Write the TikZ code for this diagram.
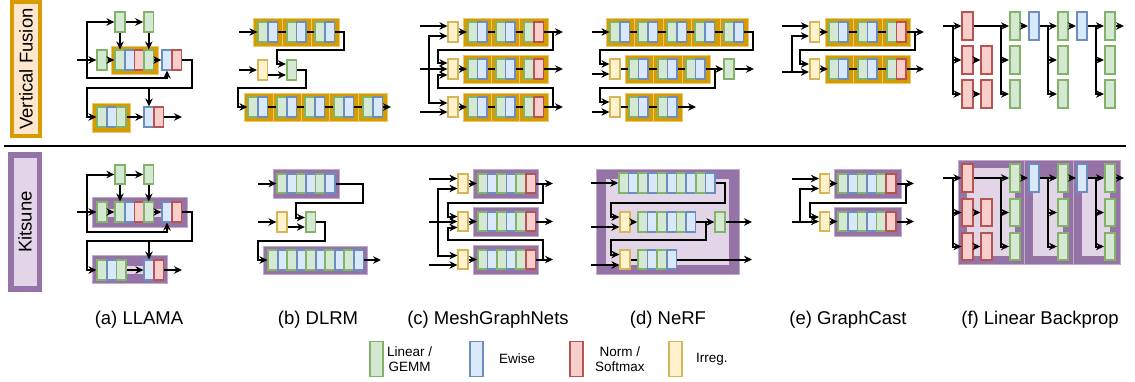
\documentclass[tikz,border=0pt]{standalone}
\usepackage{fontspec}
\setmainfont{Liberation Sans}
\usetikzlibrary{arrows.meta,calc}

\definecolor{grfill}{HTML}{D5E8D4}
\definecolor{grline}{HTML}{82B366}
\definecolor{blfill}{HTML}{DAE8FC}
\definecolor{blline}{HTML}{6C8EBF}
\definecolor{rdfill}{HTML}{F8CECC}
\definecolor{rdline}{HTML}{B85450}
\definecolor{ylfill}{HTML}{FFF2CC}
\definecolor{ylline}{HTML}{D6B656}
\definecolor{vfcol}{HTML}{D79B00}
\definecolor{vflight}{HTML}{FFE6CC}
\definecolor{ktcol}{HTML}{9673A6}
\definecolor{ktlight}{HTML}{E1D5E7}

\tikzset{
  op/.style={minimum width=9.6pt, minimum height=19.5pt, inner sep=0pt, line width=1.6pt},
  lin/.style={op, fill=grfill, draw=grline},
  ew/.style={op, fill=blfill, draw=blline},
  nrm/.style={op, fill=rdfill, draw=rdline},
  irr/.style={op, fill=ylfill, draw=ylline},
  tall/.style={minimum width=10.5pt, minimum height=27.5pt},
  key/.style={minimum width=12.5pt, minimum height=35pt},
  vfbox/.style={fill=vfcol, draw=vfcol!55!white, line width=0.6pt},
  ktbox/.style={fill=ktcol, draw=ktcol!60!white, line width=0.6pt},
  ktin/.style={fill=ktlight},
  wire/.style={line width=2pt},
  arr/.style={wire, -{Stealth[length=8pt,width=7.5pt]}},
  rowlbl/.style={rotate=90, inner sep=0pt, font=\fontsize{18.5}{20}\selectfont},
  subcap/.style={inner sep=0pt, font=\fontsize{18.5}{20}\selectfont},
  lgd/.style={inner sep=0pt, align=center, font=\fontsize{13.5}{15.5}\selectfont},
}

\begin{document}
\begin{tikzpicture}[x=1pt,y=-1pt]
\useasboundingbox (0,0) rectangle (1135,381);

\fill[vfcol] (10,0) rectangle (42,138);
\fill[vflight] (14,4) rectangle (38,134);
\node[rowlbl] (lbl-vf) at (26,69) {Vertical Fusion};
\fill[ktcol] (8,152) rectangle (42,292);
\fill[ktlight] (13.5,158) rectangle (36.5,285.5);
\node[rowlbl] (lbl-kt) at (25,222) {Kitsune};
\coordinate (sep-l) at (4,146);
\coordinate (sep-r) at (1126,146);
\draw[line width=1.3pt] (sep-l) -- (sep-r);

% (a) LLAMA
\fill[vfbox] (111,46) rectangle (158,74);
\fill[vfbox] (92,103) rectangle (130,132);
\node[lin] (va-g1) at (120,22) {};
\node[lin] (va-g2) at (148.8,22) {};
\node[lin] (va-g0) at (102,60) {};
\node[lin] (va-f1) at (120,60) {};
\node[ew]  (va-f2) at (129.6,60) {};
\node[nrm] (va-f3) at (139.2,60) {};
\node[lin] (va-f4) at (148.8,60) {};
\node[ew]  (va-e1) at (167,60) {};
\node[nrm] (va-n1) at (176.6,60) {};
\node[lin] (va-h1) at (102,117) {};
\node[ew]  (va-h2) at (111.6,117) {};
\node[lin] (va-h3) at (121.2,117) {};
\node[ew]  (va-e2) at (149,117) {};
\node[nrm] (va-n2) at (158.6,117) {};
\coordinate (va-in) at (77,60);
\coordinate (va-j) at (87,60);
\coordinate (va-out) at (182,117);
\draw[arr] (va-in) -- (va-g0);
\draw[arr] (va-j) |- (va-g1);
\draw[arr] (va-j) -- (87,78) -| (va-e1);
\draw[arr] (va-g1) -- (va-g2);
\draw[arr] (va-g1) -- (va-f1);
\draw[arr] (va-g2) -- (va-f4);
\draw[arr] (va-g0) -- (va-f1);
\draw[arr] (va-f4) -- (va-e1);
\draw[arr] (va-n1) -- (192,60) -- (192,88) -- (87,88) |- (va-h1);
\draw[arr] (va-e2 |- 0,88) -- (va-e2);
\draw[arr] (va-h3) -- (va-e2);
\draw[arr] (va-n2) -- (va-out);

\fill[ktbox] (92,197) rectangle (187,227);
\fill[ktin] (102,208.5) rectangle (172,217);
\fill[ktbox] (92,255) rectangle (167,283);
\fill[ktin] (112,265.5) rectangle (154,274);
\node[lin] (ka-g1) at (120,174.5) {};
\node[lin] (ka-g2) at (148.8,174.5) {};
\node[lin] (ka-g0) at (102,212) {};
\node[lin] (ka-f1) at (120,212) {};
\node[ew]  (ka-f2) at (129.6,212) {};
\node[nrm] (ka-f3) at (139.2,212) {};
\node[lin] (ka-f4) at (148.8,212) {};
\node[ew]  (ka-e1) at (167,212) {};
\node[nrm] (ka-n1) at (176.6,212) {};
\node[lin] (ka-h1) at (102,270) {};
\node[ew]  (ka-h2) at (111.6,270) {};
\node[lin] (ka-h3) at (121.2,270) {};
\node[ew]  (ka-e2) at (149,270) {};
\node[nrm] (ka-n2) at (158.6,270) {};
\coordinate (ka-in) at (77,212);
\coordinate (ka-j) at (87,212);
\coordinate (ka-out) at (182,270);
\draw[arr] (ka-in) -- (ka-g0);
\draw[arr] (ka-j) |- (ka-g1);
\draw[arr] (ka-j) -- (87,232) -| (ka-e1);
\draw[arr] (ka-g1) -- (ka-g2);
\draw[arr] (ka-g1) -- (ka-f1);
\draw[arr] (ka-g2) -- (ka-f4);
\draw[arr] (ka-g0) -- (ka-f1);
\draw[arr] (ka-f4) -- (ka-e1);
\draw[arr] (ka-n1) -- (192,212) -- (192,241) -- (87,241) |- (ka-h1);
\draw[arr] (ka-e2 |- 0,241) -- (ka-e2);
\draw[arr] (ka-h3) -- (ka-e2);
\draw[arr] (ka-n2) -- (ka-out);

% (b) DLRM
\fill[vfbox] (253,18) rectangle (282,46);
\fill[vfbox] (282,18) rectangle (311,46);
\fill[vfbox] (311,18) rectangle (339,46);
\fill[vfbox] (244,93) rectangle (273,121);
\fill[vfbox] (273,93) rectangle (301,121);
\fill[vfbox] (301,93) rectangle (329,121);
\fill[vfbox] (329,93) rectangle (358,121);
\fill[vfbox] (358,93) rectangle (387,121);
\node[lin] (vb-a1) at (263,32) {};
\node[ew]  (vb-a2) at (272.6,32) {};
\node[lin] (vb-a3) at (291.5,32) {};
\node[ew]  (vb-a4) at (301.1,32) {};
\node[lin] (vb-a5) at (320,32) {};
\node[ew]  (vb-a6) at (329.6,32) {};
\node[irr] (vb-y) at (262.5,70) {};
\node[lin] (vb-g) at (291.5,70) {};
\node[lin] (vb-c1) at (253,107) {};
\node[ew]  (vb-c2) at (262.6,107) {};
\node[lin] (vb-c3) at (282,107) {};
\node[ew]  (vb-c4) at (291.6,107) {};
\node[lin] (vb-c5) at (310,107) {};
\node[ew]  (vb-c6) at (319.6,107) {};
\node[lin] (vb-c7) at (339,107) {};
\node[ew]  (vb-c8) at (348.6,107) {};
\node[lin] (vb-c9) at (368,107) {};
\node[ew]  (vb-c10) at (377.6,107) {};
\coordinate (vb-in1) at (239,32);
\coordinate (vb-in2) at (239,70);
\coordinate (vb-out) at (391,107);
\draw[arr] (vb-in1) -- (vb-a1);
\draw[wire] (vb-a2) -- (vb-a3);
\draw[wire] (vb-a4) -- (vb-a5);
\draw[arr] (vb-a6) -- (344,32) -- (344,50) -- (277,50) |- ($(vb-g.west)+(0,-6)$);
\draw[arr] (vb-in2) -- (vb-y);
\draw[arr] ($(vb-y.east)+(0,5)$) -- ($(vb-g.west)+(0,5)$);
\draw[arr] (vb-g) -- (306,70) -- (306,88) -- (238,88) |- (vb-c1);
\draw[wire] (vb-c2) -- (vb-c3);
\draw[wire] (vb-c4) -- (vb-c5);
\draw[wire] (vb-c6) -- (vb-c7);
\draw[wire] (vb-c8) -- (vb-c9);
\draw[arr] (vb-c10) -- (vb-out);

\fill[ktbox] (273,169) rectangle (339,198);
\fill[ktbox] (263,246) rectangle (367,274);
\node[lin] (kb-a1) at (282,183.5) {};
\node[ew]  (kb-a2) at (291.6,183.5) {};
\node[lin] (kb-a3) at (301.2,183.5) {};
\node[ew]  (kb-a4) at (310.8,183.5) {};
\node[lin] (kb-a5) at (320.4,183.5) {};
\node[ew]  (kb-a6) at (330,183.5) {};
\node[irr] (kb-y) at (282,222) {};
\node[lin] (kb-g) at (310.5,222) {};
\node[lin] (kb-c1) at (273,260) {};
\node[ew]  (kb-c2) at (282.5,260) {};
\node[lin] (kb-c3) at (292,260) {};
\node[ew]  (kb-c4) at (301.5,260) {};
\node[lin] (kb-c5) at (311,260) {};
\node[ew]  (kb-c6) at (320.5,260) {};
\node[lin] (kb-c7) at (330,260) {};
\node[ew]  (kb-c8) at (339.5,260) {};
\node[lin] (kb-c9) at (349,260) {};
\node[ew]  (kb-c10) at (358.5,260) {};
\coordinate (kb-in1) at (258,183.5);
\coordinate (kb-in2) at (258,222);
\coordinate (kb-out) at (381,260);
\draw[arr] (kb-in1) -- (kb-a1);
\draw[arr] (kb-a6) -- (363,183.5) -- (363,203) -- (296,203) |- ($(kb-g.west)+(0,-4.5)$);
\draw[arr] (kb-in2) -- (kb-y);
\draw[arr] ($(kb-y.east)+(0,5)$) -- ($(kb-g.west)+(0,5)$);
\draw[arr] (kb-g) -- (325,222) -- (325,241) -- (258,241) |- (kb-c1);
\draw[arr] (kb-c10) -- (kb-out);

% (c) MeshGraphNets
\fill[vfbox] (463,18) rectangle (491,46);
\fill[vfbox] (491,18) rectangle (519,46);
\fill[vfbox] (519,18) rectangle (548,46);
\fill[vfbox] (463,55) rectangle (491,83);
\fill[vfbox] (491,55) rectangle (519,83);
\fill[vfbox] (519,55) rectangle (548,83);
\fill[vfbox] (463,93) rectangle (491,121);
\fill[vfbox] (491,93) rectangle (519,121);
\fill[vfbox] (519,93) rectangle (548,121);
\node[irr] (vc-ya) at (453,32) {};
\node[lin] (vc-a1) at (472.5,32) {};
\node[ew]  (vc-a2) at (482.1,32) {};
\node[lin] (vc-a3) at (500.5,32) {};
\node[ew]  (vc-a4) at (510.1,32) {};
\node[lin] (vc-a5) at (529,32) {};
\node[nrm] (vc-a6) at (538.6,32) {};
\node[irr] (vc-yb) at (453,69) {};
\node[lin] (vc-b1) at (472.5,69) {};
\node[ew]  (vc-b2) at (482.1,69) {};
\node[lin] (vc-b3) at (500.5,69) {};
\node[ew]  (vc-b4) at (510.1,69) {};
\node[lin] (vc-b5) at (529,69) {};
\node[nrm] (vc-b6) at (538.6,69) {};
\node[irr] (vc-yc) at (453,107) {};
\node[lin] (vc-c1) at (472.5,107) {};
\node[ew]  (vc-c2) at (482.1,107) {};
\node[lin] (vc-c3) at (500.5,107) {};
\node[ew]  (vc-c4) at (510.1,107) {};
\node[lin] (vc-c5) at (529,107) {};
\node[nrm] (vc-c6) at (538.6,107) {};
\coordinate (vc-in1) at (420,26);
\coordinate (vc-in2) at (420,69);
\coordinate (vc-in3) at (420,112);
\coordinate (vc-j) at (429,69);
\coordinate (vc-k1) at (553,32);
\coordinate (vc-k3) at (553,107);
\coordinate (vc-out1) at (563,32);
\coordinate (vc-out2) at (563,69);
\coordinate (vc-out3) at (563,107);
\draw[arr] (vc-in1) -- ($(vc-ya.west)+(0,-6)$);
\draw[arr] (vc-in2) -- (vc-yb);
\draw[arr] (vc-in3) -- ($(vc-yc.west)+(0,5)$);
\draw[arr] (vc-j) |- ($(vc-ya.west)+(0,4)$);
\draw[arr] (vc-j) |- ($(vc-yc.west)+(0,-4)$);
\draw[arr] (vc-ya) -- (vc-a1);
\draw[arr] (vc-yb) -- (vc-b1);
\draw[arr] (vc-yc) -- (vc-c1);
\draw[wire] (vc-a2) -- (vc-a3);
\draw[wire] (vc-a4) -- (vc-a5);
\draw[wire] (vc-b2) -- (vc-b3);
\draw[wire] (vc-b4) -- (vc-b5);
\draw[wire] (vc-c2) -- (vc-c3);
\draw[wire] (vc-c4) -- (vc-c5);
\draw[arr] (vc-a6) -- (vc-out1);
\draw[arr] (vc-b6) -- (vc-out2);
\draw[arr] (vc-c6) -- (vc-out3);
\draw[arr] (vc-k1) -- (553,50) -- (438,50) |- ($(vc-yb.west)+(0,-6)$);
\draw[arr] (vc-k3) -- (553,88) -- (438,88) |- ($(vc-yb.west)+(0,6)$);

\fill[ktbox] (473,169) rectangle (538,198);
\fill[ktbox] (473,207) rectangle (538,236);
\fill[ktbox] (473,245) rectangle (538,274);
\node[irr] (kc-ya) at (463,183.5) {};
\node[lin] (kc-a1) at (482.5,183.5) {};
\node[ew]  (kc-a2) at (492.1,183.5) {};
\node[lin] (kc-a3) at (501.7,183.5) {};
\node[ew]  (kc-a4) at (511.3,183.5) {};
\node[lin] (kc-a5) at (520.9,183.5) {};
\node[nrm] (kc-a6) at (530.5,183.5) {};
\node[irr] (kc-yb) at (463,221.5) {};
\node[lin] (kc-b1) at (482.5,221.5) {};
\node[ew]  (kc-b2) at (492.1,221.5) {};
\node[lin] (kc-b3) at (501.7,221.5) {};
\node[ew]  (kc-b4) at (511.3,221.5) {};
\node[lin] (kc-b5) at (520.9,221.5) {};
\node[nrm] (kc-b6) at (530.5,221.5) {};
\node[irr] (kc-yc) at (463,259.5) {};
\node[lin] (kc-c1) at (482.5,259.5) {};
\node[ew]  (kc-c2) at (492.1,259.5) {};
\node[lin] (kc-c3) at (501.7,259.5) {};
\node[ew]  (kc-c4) at (511.3,259.5) {};
\node[lin] (kc-c5) at (520.9,259.5) {};
\node[nrm] (kc-c6) at (530.5,259.5) {};
\coordinate (kc-in1) at (429,178.5);
\coordinate (kc-in2) at (429,221.5);
\coordinate (kc-in3) at (429,265);
\coordinate (kc-j) at (438,221.5);
\coordinate (kc-k1) at (543,183.5);
\coordinate (kc-k3) at (543,259.5);
\coordinate (kc-out1) at (553,183.5);
\coordinate (kc-out2) at (553,221.5);
\coordinate (kc-out3) at (553,259.5);
\draw[arr] (kc-in1) -- ($(kc-ya.west)+(0,-5)$);
\draw[arr] (kc-in2) -- (kc-yb);
\draw[arr] (kc-in3) -- ($(kc-yc.west)+(0,5.5)$);
\draw[arr] (kc-j) |- ($(kc-ya.west)+(0,5)$);
\draw[arr] (kc-j) |- ($(kc-yc.west)+(0,-4)$);
\draw[arr] (kc-ya) -- (kc-a1);
\draw[arr] (kc-yb) -- (kc-b1);
\draw[arr] (kc-yc) -- (kc-c1);
\draw[arr] (kc-a6) -- (kc-out1);
\draw[arr] (kc-b6) -- (kc-out2);
\draw[arr] (kc-c6) -- (kc-out3);
\draw[arr] (kc-k1) -- (543,203) -- (448,203) |- ($(kc-yb.west)+(0,-5)$);
\draw[arr] (kc-k3) -- (543,240) -- (448,240) |- ($(kc-yb.west)+(0,6)$);

% (d) NeRF
\fill[vfbox] (606,18) rectangle (634,46);
\fill[vfbox] (634,18) rectangle (663,46);
\fill[vfbox] (663,18) rectangle (691,46);
\fill[vfbox] (691,18) rectangle (720,46);
\fill[vfbox] (720,18) rectangle (748,46);
\fill[vfbox] (625,55) rectangle (653,83);
\fill[vfbox] (653,55) rectangle (682,83);
\fill[vfbox] (682,55) rectangle (710,83);
\fill[vfbox] (625,93) rectangle (653,121);
\fill[vfbox] (653,93) rectangle (682,121);
\node[lin] (vd-a1) at (615,32) {};
\node[ew]  (vd-a2) at (624.6,32) {};
\node[lin] (vd-a3) at (643,32) {};
\node[ew]  (vd-a4) at (652.6,32) {};
\node[lin] (vd-a5) at (672,32) {};
\node[ew]  (vd-a6) at (681.6,32) {};
\node[lin] (vd-a7) at (700,32) {};
\node[ew]  (vd-a8) at (709.6,32) {};
\node[lin] (vd-a9) at (729,32) {};
\node[ew]  (vd-a10) at (738.6,32) {};
\node[irr] (vd-yb) at (615,69) {};
\node[lin] (vd-b1) at (633.5,69) {};
\node[ew]  (vd-b2) at (643.1,69) {};
\node[lin] (vd-b3) at (662.5,69) {};
\node[ew]  (vd-b4) at (672.1,69) {};
\node[lin] (vd-b5) at (690.5,69) {};
\node[ew]  (vd-b6) at (700.1,69) {};
\node[lin] (vd-g) at (729,69) {};
\node[irr] (vd-yc) at (615,107) {};
\node[lin] (vd-c1) at (633.5,107) {};
\node[ew]  (vd-c2) at (643.1,107) {};
\node[lin] (vd-c3) at (662.5,107) {};
\node[ew]  (vd-c4) at (672.1,107) {};
\coordinate (vd-in1) at (592,32);
\coordinate (vd-in2) at (592,74);
\coordinate (vd-in3) at (592,112);
\coordinate (vd-k) at (715,69);
\coordinate (vd-out2) at (754,69);
\coordinate (vd-out3) at (696,107);
\draw[arr] (vd-in1) -- (vd-a1);
\draw[wire] (vd-a2) -- (vd-a3);
\draw[wire] (vd-a4) -- (vd-a5);
\draw[wire] (vd-a6) -- (vd-a7);
\draw[wire] (vd-a8) -- (vd-a9);
\draw[arr] (vd-a10) -- (753,32) -- (753,50) -- (600,50) |- ($(vd-yb.west)+(0,-5)$);
\draw[arr] (vd-in2) -- ($(vd-yb.west)+(0,5)$);
\draw[wire] (vd-yb) -- (vd-b1);
\draw[wire] (vd-b2) -- (vd-b3);
\draw[wire] (vd-b4) -- (vd-b5);
\draw[arr] (vd-b6) -- (vd-g);
\draw[arr] (vd-g) -- (vd-out2);
\draw[arr] (vd-k) -- (715,88) -- (600,88) |- ($(vd-yc.west)+(0,-5)$);
\draw[arr] (vd-in3) -- ($(vd-yc.west)+(0,5)$);
\draw[wire] (vd-yc) -- (vd-c1);
\draw[wire] (vd-c2) -- (vd-c3);
\draw[arr] (vd-c4) -- (vd-out3);

\fill[ktbox] (596,169) rectangle (739,274);
\fill[ktin] (606,179) rectangle (729,265);
\node[lin] (kd-a1) at (623.8,183) {};
\node[ew]  (kd-a2) at (633.4,183) {};
\node[lin] (kd-a3) at (643,183) {};
\node[ew]  (kd-a4) at (652.6,183) {};
\node[lin] (kd-a5) at (662.2,183) {};
\node[ew]  (kd-a6) at (671.8,183) {};
\node[lin] (kd-a7) at (681.4,183) {};
\node[ew]  (kd-a8) at (691,183) {};
\node[lin] (kd-a9) at (700.6,183) {};
\node[ew]  (kd-a10) at (710.2,183) {};
\node[irr] (kd-yb) at (625,222) {};
\node[lin] (kd-b1) at (642.8,222) {};
\node[ew]  (kd-b2) at (652.4,222) {};
\node[lin] (kd-b3) at (662,222) {};
\node[ew]  (kd-b4) at (671.6,222) {};
\node[lin] (kd-b5) at (681.2,222) {};
\node[ew]  (kd-b6) at (690.8,222) {};
\node[lin] (kd-g) at (720,222) {};
\node[irr] (kd-yc) at (625,259.5) {};
\node[lin] (kd-c1) at (642.8,259.5) {};
\node[ew]  (kd-c2) at (652.4,259.5) {};
\node[lin] (kd-c3) at (662,259.5) {};
\node[ew]  (kd-c4) at (671.6,259.5) {};
\coordinate (kd-in1) at (591,183);
\coordinate (kd-in2) at (591,227);
\coordinate (kd-in3) at (591,265);
\coordinate (kd-k) at (706,222);
\coordinate (kd-out2) at (752,222);
\coordinate (kd-out3) at (752,259.5);
\draw[arr] (kd-in1) -- (kd-a1);
\draw[arr] (kd-a10) -- (725,183) -- (725,203) -- (611,203) |- ($(kd-yb.west)+(0,-5)$);
\draw[arr] (kd-in2) -- ($(kd-yb.west)+(0,5)$);
\draw[arr] (kd-yb) -- (kd-b1);
\draw[arr] (kd-b6) -- (kd-g);
\draw[arr] (kd-g) -- (kd-out2);
\draw[arr] (kd-k) -- (706,240) -- (611,240) |- ($(kd-yc.west)+(0,-5)$);
\draw[arr] (kd-in3) -- ($(kd-yc.west)+(0,5.5)$);
\draw[wire] (kd-yc) -- (kd-c1);
\draw[arr] (kd-c4) -- (kd-out3);

% (e) GraphCast
\fill[vfbox] (825,18) rectangle (853,46);
\fill[vfbox] (853,18) rectangle (882,46);
\fill[vfbox] (882,18) rectangle (910,46);
\fill[vfbox] (825,55) rectangle (853,83);
\fill[vfbox] (853,55) rectangle (882,83);
\fill[vfbox] (882,55) rectangle (910,83);
\node[irr] (ve-ya) at (814.5,32) {};
\node[lin] (ve-a1) at (833.5,32) {};
\node[ew]  (ve-a2) at (843.1,32) {};
\node[lin] (ve-a3) at (862.5,32) {};
\node[ew]  (ve-a4) at (872.1,32) {};
\node[lin] (ve-a5) at (891.5,32) {};
\node[nrm] (ve-a6) at (901.1,32) {};
\node[irr] (ve-yb) at (814.5,69) {};
\node[lin] (ve-b1) at (833.5,69) {};
\node[ew]  (ve-b2) at (843.1,69) {};
\node[lin] (ve-b3) at (862.5,69) {};
\node[ew]  (ve-b4) at (872.1,69) {};
\node[lin] (ve-b5) at (891.5,69) {};
\node[nrm] (ve-b6) at (901.1,69) {};
\coordinate (ve-in1) at (782,26);
\coordinate (ve-in2) at (782,72);
\coordinate (ve-j) at (792,72);
\coordinate (ve-k) at (915,32);
\coordinate (ve-out1) at (924,32);
\coordinate (ve-out2) at (924,69);
\draw[arr] (ve-in1) -- ($(ve-ya.west)+(0,-6)$);
\draw[arr] (ve-in2) -- ($(ve-yb.west)+(0,3)$);
\draw[arr] (ve-j) |- ($(ve-ya.west)+(0,4)$);
\draw[arr] (ve-ya) -- (ve-a1);
\draw[arr] (ve-yb) -- (ve-b1);
\draw[wire] (ve-a2) -- (ve-a3);
\draw[wire] (ve-a4) -- (ve-a5);
\draw[wire] (ve-b2) -- (ve-b3);
\draw[wire] (ve-b4) -- (ve-b5);
\draw[arr] (ve-a6) -- (ve-out1);
\draw[arr] (ve-b6) -- (ve-out2);
\draw[arr] (ve-k) -- (915,50) -- (800,50) |- ($(ve-yb.west)+(0,-5)$);

\fill[ktbox] (834,169) rectangle (901,198);
\fill[ktbox] (834,207) rectangle (901,236);
\node[irr] (ke-ya) at (824.5,183.5) {};
\node[lin] (ke-a1) at (843,183.5) {};
\node[ew]  (ke-a2) at (852.6,183.5) {};
\node[lin] (ke-a3) at (862.2,183.5) {};
\node[ew]  (ke-a4) at (871.8,183.5) {};
\node[lin] (ke-a5) at (881.4,183.5) {};
\node[nrm] (ke-a6) at (891,183.5) {};
\node[irr] (ke-yb) at (824.5,221.5) {};
\node[lin] (ke-b1) at (843,221.5) {};
\node[ew]  (ke-b2) at (852.6,221.5) {};
\node[lin] (ke-b3) at (862.2,221.5) {};
\node[ew]  (ke-b4) at (871.8,221.5) {};
\node[lin] (ke-b5) at (881.4,221.5) {};
\node[nrm] (ke-b6) at (891,221.5) {};
\coordinate (ke-in1) at (792,178.5);
\coordinate (ke-in2) at (792,221.5);
\coordinate (ke-j) at (800,221.5);
\coordinate (ke-k) at (906,183.5);
\coordinate (ke-out1) at (914,183.5);
\coordinate (ke-out2) at (914,221.5);
\draw[arr] (ke-in1) -- ($(ke-ya.west)+(0,-5)$);
\draw[arr] (ke-in2) -- (ke-yb);
\draw[arr] (ke-j) |- ($(ke-ya.west)+(0,5)$);
\draw[arr] (ke-ya) -- (ke-a1);
\draw[arr] (ke-yb) -- (ke-b1);
\draw[arr] (ke-a6) -- (ke-out1);
\draw[arr] (ke-b6) -- (ke-out2);
\draw[arr] (ke-k) -- (906,203) -- (810,203) |- ($(ke-yb.west)+(0,-4.5)$);

% (f) Linear Backprop
\node[nrm,tall] (vf-r1) at (967.5,26) {};
\node[nrm,tall] (vf-r2) at (967.5,60) {};
\node[nrm,tall] (vf-r3) at (986.5,60) {};
\node[nrm,tall] (vf-r4) at (967.5,94) {};
\node[nrm,tall] (vf-r5) at (986.5,94) {};
\node[lin,tall] (vf-g1) at (1015,26) {};
\node[lin,tall] (vf-g2) at (1015,60) {};
\node[lin,tall] (vf-g3) at (1015,94) {};
\node[ew,tall]  (vf-b1) at (1034,26) {};
\node[lin,tall] (vf-g4) at (1063,26) {};
\node[lin,tall] (vf-g5) at (1063,60) {};
\node[lin,tall] (vf-g6) at (1063,94) {};
\node[ew,tall]  (vf-b2) at (1082,26) {};
\node[lin,tall] (vf-g7) at (1110,26) {};
\node[lin,tall] (vf-g8) at (1110,60) {};
\node[lin,tall] (vf-g9) at (1110,94) {};
\coordinate (vf-in) at (943,26);
\coordinate (vf-j1) at (953,26);
\coordinate (vf-j2) at (1001,26);
\coordinate (vf-j3) at (1048,26);
\coordinate (vf-j4) at (1096,26);
\coordinate (vf-out) at (1124,26);
\draw[arr] (vf-in) -- (vf-r1);
\draw[arr] (vf-j1) |- (vf-r2);
\draw[arr] (vf-j1) |- (vf-r4);
\draw[arr] (vf-r2) -- (vf-r3);
\draw[arr] (vf-r4) -- (vf-r5);
\draw[arr] (vf-r1) -- (vf-g1);
\draw[arr] (vf-j2) |- (vf-g2);
\draw[arr] (vf-j2) |- (vf-g3);
\draw[arr] (vf-g1) -- (vf-b1);
\draw[arr] (vf-b1) -- (vf-g4);
\draw[arr] (vf-j3) |- (vf-g5);
\draw[arr] (vf-j3) |- (vf-g6);
\draw[arr] (vf-g4) -- (vf-b2);
\draw[arr] (vf-b2) -- (vf-g7);
\draw[arr] (vf-j4) |- (vf-g8);
\draw[arr] (vf-j4) |- (vf-g9);
\draw[arr] (vf-g7) -- (vf-out);

\fill[ktbox] (958,160) rectangle (1024,264);
\fill[ktbox] (1024,160) rectangle (1073,264);
\fill[ktbox] (1073,160) rectangle (1120,264);
\fill[ktin] (967,168) rectangle (1015,256);
\fill[ktin] (1033,178) rectangle (1063,256);
\fill[ktin] (1082,178) rectangle (1110,256);
\node[nrm,tall] (kf-r1) at (967.5,178) {};
\node[nrm,tall] (kf-r2) at (967.5,212.5) {};
\node[nrm,tall] (kf-r3) at (986.5,212.5) {};
\node[nrm,tall] (kf-r4) at (967.5,246.5) {};
\node[nrm,tall] (kf-r5) at (986.5,246.5) {};
\node[lin,tall] (kf-g1) at (1015,178) {};
\node[lin,tall] (kf-g2) at (1015,212.5) {};
\node[lin,tall] (kf-g3) at (1015,246.5) {};
\node[ew,tall]  (kf-b1) at (1034,178) {};
\node[lin,tall] (kf-g4) at (1063,178) {};
\node[lin,tall] (kf-g5) at (1063,212.5) {};
\node[lin,tall] (kf-g6) at (1063,246.5) {};
\node[ew,tall]  (kf-b2) at (1082,178) {};
\node[lin,tall] (kf-g7) at (1110,178) {};
\node[lin,tall] (kf-g8) at (1110,212.5) {};
\node[lin,tall] (kf-g9) at (1110,246.5) {};
\coordinate (kf-in) at (943,178);
\coordinate (kf-j1) at (953,178);
\coordinate (kf-j2) at (1001,178);
\coordinate (kf-j3) at (1048,178);
\coordinate (kf-j4) at (1096,178);
\coordinate (kf-out) at (1124,178);
\draw[arr] (kf-in) -- (kf-r1);
\draw[arr] (kf-j1) |- (kf-r2);
\draw[arr] (kf-j1) |- (kf-r4);
\draw[arr] (kf-r2) -- (kf-r3);
\draw[arr] (kf-r4) -- (kf-r5);
\draw[arr] (kf-r1) -- (kf-g1);
\draw[arr] (kf-j2) |- (kf-g2);
\draw[arr] (kf-j2) |- (kf-g3);
\draw[arr] (kf-g1) -- (kf-b1);
\draw[arr] (kf-b1) -- (kf-g4);
\draw[arr] (kf-j3) |- (kf-g5);
\draw[arr] (kf-j3) |- (kf-g6);
\draw[arr] (kf-g4) -- (kf-b2);
\draw[arr] (kf-b2) -- (kf-g7);
\draw[arr] (kf-j4) |- (kf-g8);
\draw[arr] (kf-j4) |- (kf-g9);
\draw[arr] (kf-g7) -- (kf-out);

% captions and legend
\node[subcap] (cap-a) at (139,320) {(a) LLAMA};
\node[subcap] (cap-b) at (318,320) {(b) DLRM};
\node[subcap] (cap-c) at (488,320) {(c) MeshGraphNets};
\node[subcap] (cap-d) at (668,320) {(d) NeRF};
\node[subcap] (cap-e) at (848,320) {(e) GraphCast};
\node[subcap] (cap-f) at (1040,320) {(f) Linear Backprop};

\node[lin,key] (lg-lin) at (376.5,359) {};
\node[lgd,anchor=west] (lg-lin-t) at (387,359) {Linear /\\GEMM};
\node[ew,key] (lg-ew) at (476.5,359) {};
\node[lgd,anchor=west] (lg-ew-t) at (499,359) {Ewise};
\node[nrm,key] (lg-nrm) at (576.5,359) {};
\node[lgd,anchor=west] (lg-nrm-t) at (595,359) {Norm /\\Softmax};
\node[irr,key] (lg-irr) at (675.5,359) {};
\node[lgd,anchor=west] (lg-irr-t) at (696,359) {Irreg.};
\end{tikzpicture}
\end{document}
